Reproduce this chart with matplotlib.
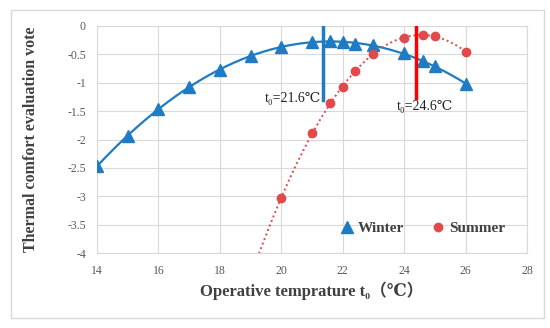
import numpy as np
import matplotlib
matplotlib.use('Agg')
import matplotlib.pyplot as plt
from matplotlib.patches import Rectangle
from matplotlib.ticker import FuncFormatter

plt.rcParams['font.family'] = ['Liberation Serif', 'DejaVu Serif', 'Noto Sans CJK SC']

# data
winter_t = [14, 15, 16, 17, 18, 19, 20, 21, 21.6, 22, 22.4, 23, 24, 24.6, 25, 26]
winter_v = [-2.47, -1.93, -1.46, -1.08, -0.77, -0.53, -0.37, -0.28, -0.26, -0.29,
            -0.31, -0.34, -0.48, -0.62, -0.71, -1.02]
summer_t = [20, 21, 21.6, 22, 22.4, 23, 24, 24.6, 25, 26]
summer_v = [-3.03, -1.89, -1.36, -1.07, -0.79, -0.49, -0.21, -0.16, -0.18, -0.45]

winter_opt = 21.35   # where the marker line is drawn
summer_opt = 24.4
winter_lbl = 't₀=21.6℃'
summer_lbl = 't₀=24.6℃'

blue = '#1f7bc4'
red_pt = '#e04a4a'
grey_txt = '#595959'
grid_c = '#d9d9d9'

fig = plt.figure(figsize=(5.5, 3.28), dpi=100)
ax = fig.add_axes([97 / 550, 1 - 253 / 328, 430 / 550, 227 / 328])

# outer chart border
fig.patches.append(Rectangle((11 / 550, 1 - 318 / 328), 533 / 550, 308 / 328,
                             transform=fig.transFigure, fill=False,
                             edgecolor=grid_c, linewidth=1))

# quadratic trend lines
pw = np.polyfit(winter_t, winter_v, 2)
xw = np.linspace(min(winter_t), max(winter_t), 200)
ax.plot(xw, np.polyval(pw, xw), color=blue, lw=1.6, zorder=3)

ps = np.polyfit(summer_t, summer_v, 2)
xs = np.linspace(18.5, max(summer_t), 200)
ax.plot(xs, np.polyval(ps, xs), color=red_pt, lw=1.4, ls=(0, (1, 1.5)), zorder=3)

ax.plot(winter_t, winter_v, ls='none', marker='^', ms=8, color=blue,
        label='Winter', zorder=4)
ax.plot(summer_t, summer_v, ls='none', marker='o', ms=6, color=red_pt,
        label='Summer', zorder=4)

# optimum markers
ax.plot([winter_opt, winter_opt], [-0.02, -1.3], color=blue, lw=2.5, zorder=5)
ax.plot([summer_opt, summer_opt], [0.03, -1.26], color='#ff0000', lw=2.5, zorder=5)
ax.text(winter_opt - 0.05, -1.27, winter_lbl, ha='right', va='center',
        fontsize=10, color='#222222')
ax.text(23.75, -1.42, summer_lbl, ha='left', va='center',
        fontsize=10, color='#222222')

ax.set_xlim(14, 28)
ax.set_ylim(-4, 0)
ax.set_xticks(range(14, 29, 2))
ax.set_yticks(np.arange(-4, 0.01, 0.5))
ax.yaxis.set_major_formatter(FuncFormatter(lambda v, p: '0' if v == 0 else f'{v:g}'))
ax.tick_params(length=0, labelsize=8.5, labelcolor=grey_txt)
ax.tick_params(axis='x', pad=9)
ax.tick_params(axis='y', pad=8)
ax.grid(True, color=grid_c, lw=0.8)
ax.set_axisbelow(True)
for s in ax.spines.values():
    s.set_color(grid_c)
    s.set_linewidth(0.8)

ax.set_xlabel('Operative temprature t₀（℃）', fontsize=12, color='#404040',
              fontweight='bold', labelpad=3)
ax.set_ylabel('Thermal comfort evaluation vote', fontsize=11.5, color='#404040',
              fontweight='bold', labelpad=20)

ax.legend(loc='center', bbox_to_anchor=(0.755, 0.11), ncol=2, frameon=False,
          handletextpad=0.1, columnspacing=1.6, handlelength=1.2,
          labelcolor='#404040', prop={'weight': 'bold', 'size': 11})

fig.savefig('out.png', dpi=100)
